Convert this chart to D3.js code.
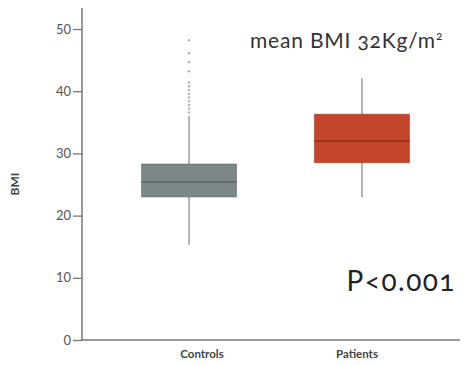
<!DOCTYPE html>
<html>
<head>
<meta charset="utf-8">
<script src="https://cdn.jsdelivr.net/npm/d3@7"></script>
<style>
body { margin: 0; background: #fff; }
text { font-family: Lato, "Open Sans", sans-serif; }
</style>
</head>
<body>
<script>
// data
let groups = ["Controls", "Patients"];
let q1 = [23.0, 28.5];
let medians = [25.4, 32.0];
let q3 = [28.3, 36.3];
let whiskerLow = [15.3, 23.0];
let whiskerHigh = [36.0, 42.1];
let controlOutliers = [36.6, 37.2, 37.8, 38.4, 39.0, 39.6, 40.2, 40.8, 41.4, 43.2, 44.7, 46.1, 48.2];
let yTicks = [0, 10, 20, 30, 40, 50];
let colors = ["#7b8687", "#c4462a"];
let strokes = ["#5c6566", "#8e2f1b"];

let svg = d3.select("body").append("svg")
	.attr("width", 464)
	.attr("height", 365);

let y = d3.scaleLinear()
	.domain([0, 50])
	.range([340, 29]);

let x = d3.scaleBand()
	.domain(groups)
	.range([82, 469])
	.paddingInner(0.45)
	.paddingOuter(0.344);

// labels sit a little off the box centres in the original
let labelShift = [13, -5];

// y axis
let yAxis = svg.append("g")
	.attr("transform", "translate(82,0)")
	.call(d3.axisLeft(y).tickValues(yTicks).tickSize(9).tickPadding(2));
yAxis.select(".domain").remove();
yAxis.selectAll("line").attr("stroke", "#777").attr("stroke-width", 1.3);
yAxis.selectAll("text")
	.attr("fill", "#555")
	.style("font-size", "13px")
	.style("font-family", "Lato, sans-serif");

svg.append("line")
	.attr("x1", 82).attr("x2", 82)
	.attr("y1", 8).attr("y2", y(0))
	.attr("stroke", "#777").attr("stroke-width", 1.5);

// x axis
svg.append("line")
	.attr("x1", 82).attr("x2", 460)
	.attr("y1", y(0)).attr("y2", y(0))
	.attr("stroke", "#777").attr("stroke-width", 1.5);

svg.selectAll(".xlab")
	.data(groups)
	.enter().append("text")
	.attr("x", (d, i) => x(d) + x.bandwidth() / 2 + labelShift[i])
	.attr("y", 358)
	.attr("text-anchor", "middle")
	.attr("fill", "#444")
	.style("font-size", "11.5px")
	.style("font-weight", "bold")
	.text(d => d);

// y label
svg.append("text")
	.attr("transform", "translate(19,184) rotate(-90)")
	.attr("text-anchor", "middle")
	.attr("fill", "#444")
	.style("font-size", "12px")
	.style("font-weight", "bold")
	.text("BMI");

// boxes
groups.forEach((g, i) => {
	let cx = x(g) + x.bandwidth() / 2;
	//whisker
	svg.append("line")
		.attr("x1", cx).attr("x2", cx)
		.attr("y1", y(whiskerLow[i])).attr("y2", y(whiskerHigh[i]))
		.attr("stroke", "#9a9a9a").attr("stroke-width", 1.5);
	//box
	svg.append("rect")
		.attr("x", x(g))
		.attr("y", y(q3[i]))
		.attr("width", x.bandwidth())
		.attr("height", y(q1[i]) - y(q3[i]))
		.attr("fill", colors[i])
		.attr("stroke", strokes[i])
		.attr("stroke-opacity", 0.5);
	//median
	svg.append("line")
		.attr("x1", x(g)).attr("x2", x(g) + x.bandwidth())
		.attr("y1", y(medians[i])).attr("y2", y(medians[i]))
		.attr("stroke", strokes[i]).attr("stroke-width", 1.5);
});

// outliers
let cx0 = x(groups[0]) + x.bandwidth() / 2;
svg.selectAll(".out")
	.data(controlOutliers)
	.enter().append("circle")
	.attr("cx", cx0)
	.attr("cy", d => y(d))
	.attr("r", 1.2)
	.attr("fill", "#b0b0b0");

// annotations
svg.append("text")
	.attr("x", 250)
	.attr("y", 48)
	.attr("fill", "#333")
	.style("font-size", "21px")
	.style("letter-spacing", "0.8px")
	.style("font-feature-settings", "'onum'")
	.html("mean BMI 32Kg/m<tspan dy='-8' style='font-size:12px'>2</tspan>");

svg.append("text")
	.attr("x", 456)
	.attr("y", 291)
	.attr("text-anchor", "end")
	.attr("fill", "#222")
	.style("font-size", "28px")
	.style("letter-spacing", "1.5px")
	.style("font-feature-settings", "'onum'")
	.text("P<0.001");
</script>
</body>
</html>
